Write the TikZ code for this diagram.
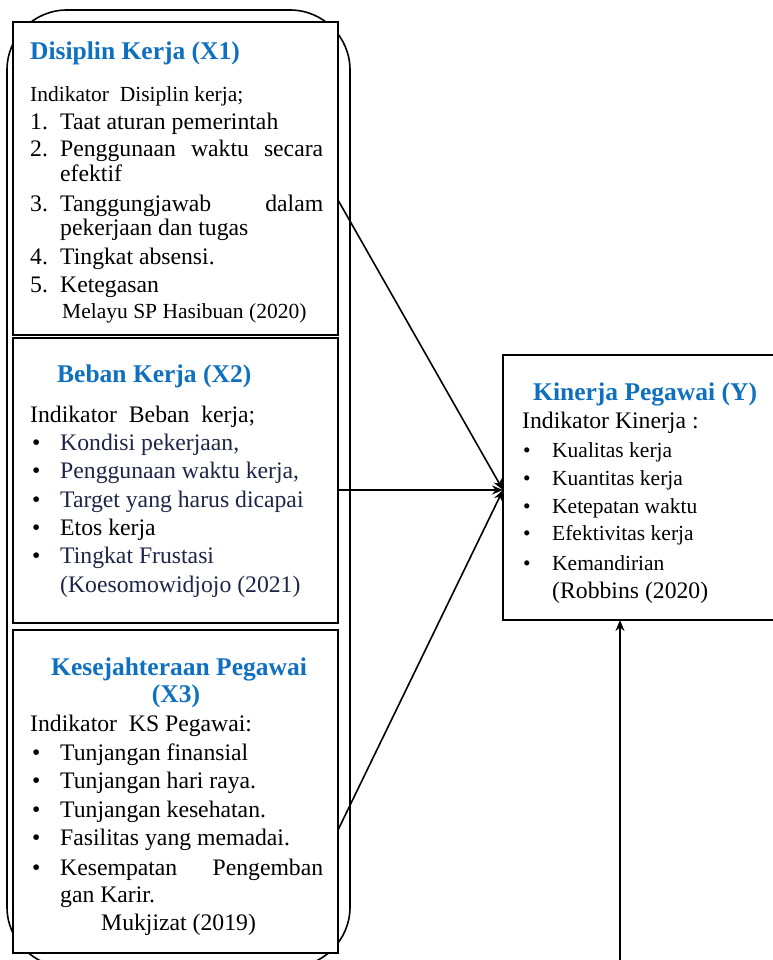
\documentclass[tikz,border=0pt]{standalone}
\usepackage{fontspec}
\setmainfont{Liberation Serif}
\usetikzlibrary{arrows.meta,calc}
\definecolor{ttlblue}{RGB}{16,112,192}
\definecolor{navytxt}{RGB}{30,38,72}
\tikzset{
  box/.style={draw=black, line width=1.6pt, fill=white, anchor=north west, inner sep=0pt, outer sep=0pt},
  body/.style={anchor=base west, inner sep=0pt, font=\fontsize{23.7pt}{28pt}\selectfont},
  smalltxt/.style={anchor=base west, inner sep=0pt, font=\fontsize{21.5pt}{26pt}\selectfont},
  ttl/.style={anchor=base west, inner sep=0pt, text=ttlblue, font=\fontsize{25.5pt}{30pt}\selectfont\bfseries},
  arr/.style={draw=black, line width=1.6pt, -{Stealth[length=11pt,width=9pt]}},
  outerframe/.style={draw=black, line width=1.6pt, rounded corners=60pt}
}
\begin{document}
\begin{tikzpicture}[x=1pt,y=-1pt]
\useasboundingbox (0,0) rectangle (772,960);
% outer rounded frame
\draw[outerframe] (7,10) rectangle (350,967);
% boxes
\node[box, minimum width=325pt, minimum height=313pt] (X1) at (13,22) {};
\node[box, minimum width=325pt, minimum height=285pt] (X2) at (13,338) {};
\node[box, minimum width=325pt, minimum height=323pt] (X3) at (13,630) {};
\node[box, minimum width=280pt, minimum height=265pt] (Y) at (503,355) {};

% Box X1
\node[ttl] (x1t) at (30,60) {Disiplin Kerja (X1)};
\node[smalltxt] (x1i) at (30,102) {Indikator\ \ Disiplin kerja;};
\node[body] (x1a) at (30,130) {\makebox[30pt][l]{1.}Taat aturan pemerintah};
\node[body] (x1b) at (30,157) {\makebox[30pt][l]{2.}\makebox[263pt][s]{Penggunaan waktu secara}};
\node[body] (x1c) at (60,182) {efektif};
\node[body] (x1d) at (30,211) {\makebox[30pt][l]{3.}\makebox[263pt][s]{Tanggungjawab dalam}};
\node[body] (x1e) at (60,235) {pekerjaan dan tugas};
\node[body] (x1f) at (30,264) {\makebox[30pt][l]{4.}Tingkat absensi.};
\node[body] (x1g) at (30,292) {\makebox[30pt][l]{5.}Ketegasan};
\node[smalltxt] (x1h) at (62,318) {Melayu SP Hasibuan (2020)};

% Box X2
\node[ttl] (x2t) at (57,382) {Beban Kerja (X2)};
\node[body] (x2i) at (30,422) {Indikator\ \ Beban\ \ kerja;};
\node[body, text=navytxt] (x2a) at (32,450) {\makebox[28pt][l]{\color{black}•}Kondisi pekerjaan,};
\node[body, text=navytxt] (x2b) at (32,478) {\makebox[28pt][l]{\color{black}•}Penggunaan waktu kerja,};
\node[body, text=navytxt] (x2c) at (32,507) {\makebox[28pt][l]{\color{black}•}Target yang harus dicapai};
\node[body] (x2d) at (32,535) {\makebox[28pt][l]{•}Etos kerja};
\node[body, text=navytxt] (x2e) at (32,563) {\makebox[28pt][l]{\color{black}•}Tingkat Frustasi};
\node[body, text=navytxt] (x2f) at (60,592) {(Koesomowidjojo (2021)};

% Box X3
\node[ttl, anchor=base] (x3t) at (179,675) {Kesejahteraan Pegawai};
\node[ttl, anchor=base] (x3u) at (176,702) {(X3)};
\node[body] (x3i) at (30,731) {Indikator\ \ KS Pegawai:};
\node[body] (x3a) at (32,760) {\makebox[28pt][l]{•}Tunjangan finansial};
\node[body] (x3b) at (32,788) {\makebox[28pt][l]{•}Tunjangan hari raya.};
\node[body] (x3c) at (32,817) {\makebox[28pt][l]{•}Tunjangan kesehatan.};
\node[body] (x3d) at (32,845) {\makebox[28pt][l]{•}Fasilitas yang memadai.};
\node[body] (x3e) at (32,875) {\makebox[28pt][l]{•}\makebox[263pt][s]{Kesempatan Pengemban}};
\node[body] (x3f) at (60,902) {gan Karir.};
\node[body] (x3g) at (101,930) {Mukjizat (2019)};

% Box Y
\node[ttl] (yt) at (533,400) {Kinerja Pegawai (Y)};
\node[body] (yi) at (522,428) {Indikator Kinerja :};
\node[smalltxt] (ya) at (523,457) {\makebox[29pt][l]{•}Kualitas kerja};
\node[smalltxt] (yb) at (523,485) {\makebox[29pt][l]{•}Kuantitas kerja};
\node[smalltxt] (yc) at (523,513) {\makebox[29pt][l]{•}Ketepatan waktu};
\node[smalltxt] (yd) at (523,540) {\makebox[29pt][l]{•}Efektivitas kerja};
\node[smalltxt] (ye) at (523,570) {\makebox[29pt][l]{•}Kemandirian};
\node[body] (yf) at (552,598) {(Robbins (2020)};

% connectors
\coordinate (yin) at (Y.north west |- 0,490);
\coordinate (bot) at (620,965);
\draw[arr] (X1.east |- 0,200) -- (yin);
\draw[arr] (X2.east |- 0,490) -- (yin);
\draw[arr] (X3.east |- 0,830) -- (yin);
\draw[arr] (bot) -- (bot |- Y.south);
\end{tikzpicture}
\end{document}
